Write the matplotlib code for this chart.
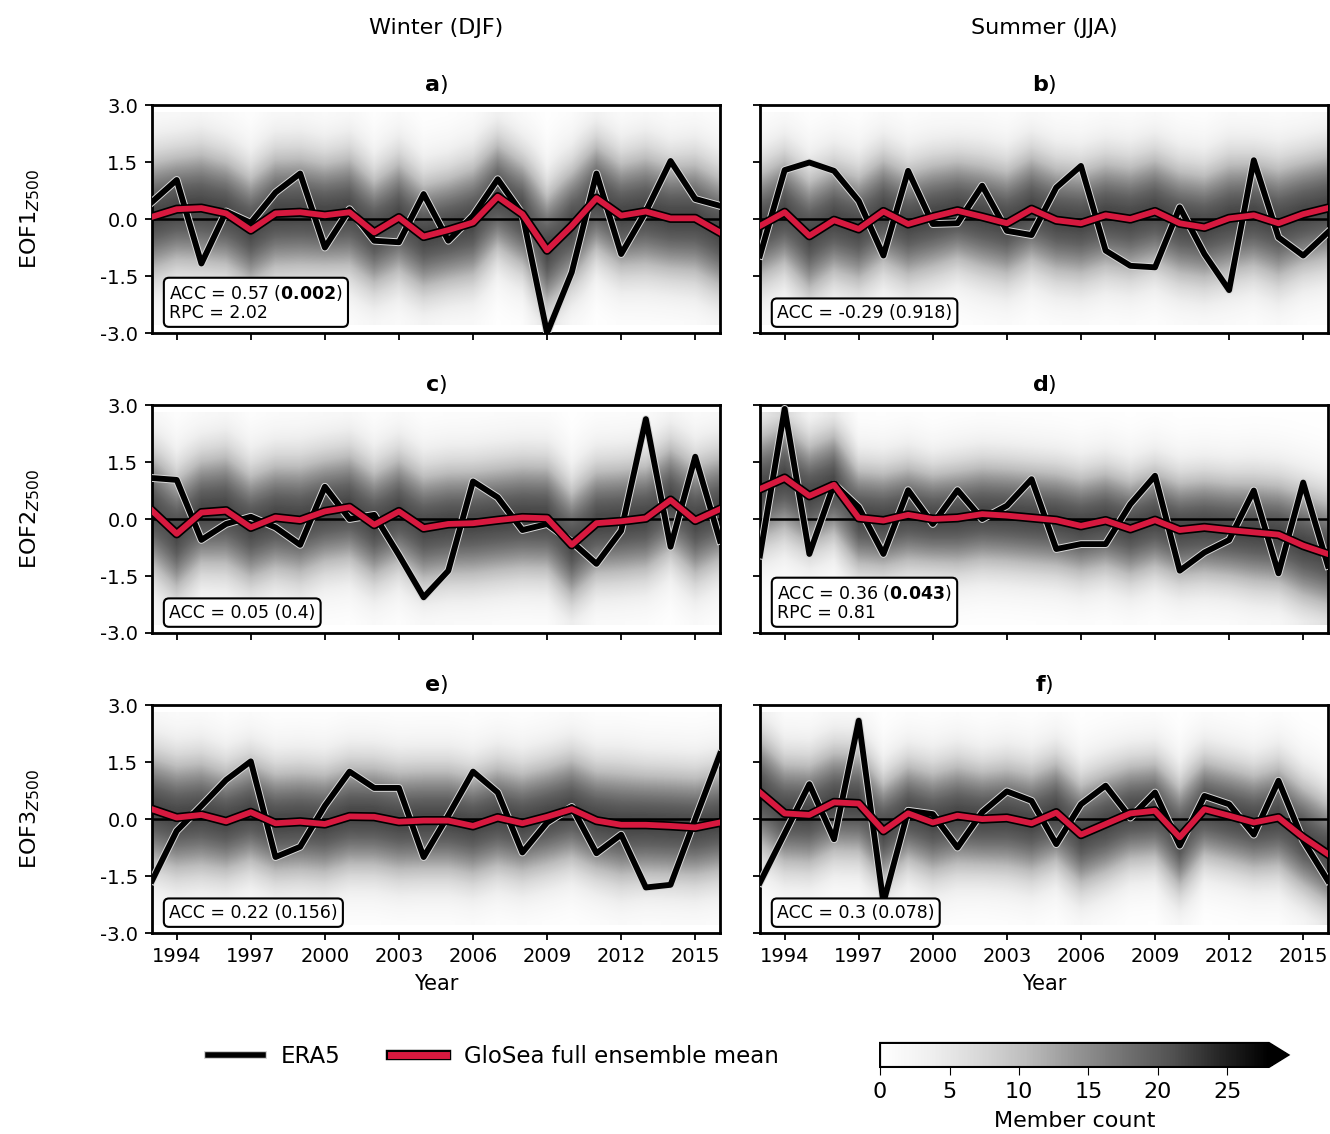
import numpy as np
import matplotlib
matplotlib.use("Agg")
import matplotlib.pyplot as plt
import matplotlib.patheffects as pe
from matplotlib.lines import Line2D

plt.rcParams['font.family'] = ['DejaVu Sans']
plt.rcParams['axes.unicode_minus'] = False

years = np.arange(1993, 2017)

# ERA5 observed index (black)
era5 = {
    "a": [0.45, 1.03, -1.17, 0.2, -0.1, 0.7, 1.2, -0.75, 0.26, -0.57, -0.61, 0.66,
          -0.57, 0.09, 1.05, 0.13, -3.0, -1.4, 1.2, -0.92, 0.2, 1.53, 0.53, 0.35],
    "b": [-0.96, 1.29, 1.49, 1.27, 0.48, -0.96, 1.27, -0.13, -0.11, 0.88, -0.31, -0.42,
          0.83, 1.4, -0.83, -1.23, -1.27, 0.31, -0.92, -1.87, 1.55, -0.48, -0.96, -0.35],
    "c": [1.08, 1.03, -0.55, -0.13, 0.06, -0.22, -0.68, 0.85, 0.0, 0.11, -0.95, -2.06,
          -1.36, 0.99, 0.57, -0.29, -0.13, -0.6, -1.18, -0.31, 2.63, -0.73, 1.64, -0.57],
    "d": [-0.96, 2.9, -0.92, 0.92, 0.31, -0.92, 0.76, -0.13, 0.76, 0.0, 0.35, 1.05,
          -0.79, -0.66, -0.66, 0.39, 1.14, -1.36, -0.88, -0.55, 0.75, -1.43, 0.96, -1.23],
    "e": [-1.62, -0.31, 0.35, 1.03, 1.52, -1.0, -0.73, 0.35, 1.25, 0.82, 0.82, -1.0,
          0.1, 1.25, 0.7, -0.88, -0.09, 0.32, -0.9, -0.41, -1.8, -1.73, 0.0, 1.71],
    "f": [-1.67, -0.38, 0.92, -0.53, 2.59, -2.2, 0.22, 0.13, -0.75, 0.18, 0.73, 0.48,
          -0.66, 0.39, 0.88, 0.04, 0.7, -0.7, 0.61, 0.39, -0.41, 1.01, -0.57, -1.62],
}

# GloSea full ensemble mean (red)
glosea = {
    "a": [0.06, 0.26, 0.29, 0.15, -0.29, 0.15, 0.18, 0.1, 0.18, -0.35, 0.04, -0.46,
          -0.29, -0.09, 0.59, 0.13, -0.82, -0.18, 0.55, 0.09, 0.2, 0.02, 0.02, -0.35],
    "b": [-0.18, 0.18, -0.44, -0.03, -0.26, 0.2, -0.13, 0.06, 0.22, 0.06, -0.11, 0.26,
          -0.03, -0.11, 0.1, 0.0, 0.2, -0.11, -0.22, 0.02, 0.1, -0.11, 0.13, 0.29],
    "c": [0.22, -0.39, 0.17, 0.22, -0.22, 0.04, -0.03, 0.2, 0.31, -0.15, 0.2, -0.24,
          -0.13, -0.11, -0.03, 0.04, 0.02, -0.68, -0.11, -0.06, 0.02, 0.5, -0.04, 0.26],
    "d": [0.79, 1.08, 0.61, 0.9, 0.03, -0.04, 0.11, 0.0, 0.03, 0.13, 0.09, 0.03,
          -0.03, -0.18, -0.04, -0.26, -0.03, -0.29, -0.22, -0.29, -0.35, -0.41, -0.7, -0.92],
    "e": [0.26, 0.04, 0.11, -0.06, 0.18, -0.11, -0.07, -0.13, 0.07, 0.06, -0.07, -0.04,
          -0.04, -0.18, 0.04, -0.11, 0.06, 0.26, -0.04, -0.15, -0.15, -0.18, -0.22, -0.09],
    "f": [0.7, 0.15, 0.11, 0.44, 0.41, -0.31, 0.15, -0.09, 0.09, 0.0, 0.03, -0.11,
          0.17, -0.41, -0.13, 0.15, 0.22, -0.48, 0.26, 0.09, -0.09, 0.04, -0.48, -0.92],
}

# ensemble spread per year (width of the grey member-count band)
spread = {
    "a": [1.15, 1.1, 1.15, 1.1, 1.1, 1.15, 1.15, 1.1, 1.15, 1.1, 1.15, 1.1,
          1.1, 1.15, 1.1, 1.1, 1.15, 1.15, 1.1, 1.1, 1.15, 1.1, 1.15, 1.15],
    "b": [1.1, 1.1, 1.15, 1.1, 1.1, 1.1, 1.1, 1.1, 1.05, 1.1, 1.1, 1.1,
          1.1, 1.1, 1.1, 1.1, 1.1, 1.1, 1.1, 1.15, 1.1, 1.15, 1.1, 1.1],
    "c": [1.15, 1.15, 1.1, 1.15, 1.1, 1.1, 1.15, 1.1, 1.1, 1.1, 1.1, 1.1,
          1.1, 1.1, 1.1, 1.1, 1.1, 1.1, 1.1, 1.1, 1.1, 1.1, 1.15, 1.1],
    "d": [1.1, 1.1, 1.05, 1.05, 1.0, 1.0, 1.0, 0.95, 1.0, 1.0, 1.0, 1.0,
          1.0, 1.0, 1.0, 1.0, 1.0, 1.0, 1.0, 1.0, 1.05, 1.05, 1.1, 1.1],
    "e": [1.1, 1.1, 1.1, 1.05, 1.05, 1.05, 1.05, 1.05, 1.05, 1.05, 1.05, 1.05,
          1.05, 1.05, 1.05, 1.05, 1.05, 1.05, 1.05, 1.1, 1.05, 1.05, 1.05, 1.05],
    "f": [1.1, 1.05, 1.05, 1.05, 1.05, 1.0, 1.0, 1.05, 1.05, 1.0, 1.05, 1.05,
          1.05, 1.05, 1.05, 1.0, 1.0, 1.05, 1.0, 1.0, 1.0, 1.05, 1.05, 1.05],
}
peak_count = 22

stats = {
    "a": "ACC = 0.57 ($\\mathbf{0.002}$)\nRPC = 2.02",
    "b": "ACC = -0.29 (0.918)",
    "c": "ACC = 0.05 (0.4)",
    "d": "ACC = 0.36 ($\\mathbf{0.043}$)\nRPC = 0.81",
    "e": "ACC = 0.22 (0.156)",
    "f": "ACC = 0.3 (0.078)",
}
row_labels = ["EOF1$_{Z500}$", "EOF2$_{Z500}$", "EOF3$_{Z500}$"]
col_titles = ["Winter (DJF)", "Summer (JJA)"]
panel_ids = [["a", "b"], ["c", "d"], ["e", "f"]]
xticks = np.arange(1994, 2016, 3)
yticks = [-3.0, -1.5, 0.0, 1.5, 3.0]

red = "#d7193f"
bins = np.arange(-2.8, 2.81, 0.2)
ycent = 0.5 * (bins[:-1] + bins[1:])

fig = plt.figure(figsize=(13.3, 11.34), dpi=100)
lefts = [0.1143, 0.5714]
bottoms = [0.7063, 0.4418, 0.1772]
w, h = 0.427, 0.201

im = None
for r in range(3):
    for c in range(2):
        k = panel_ids[r][c]
        ax = fig.add_axes([lefts[c], bottoms[r], w, h])
        mu = np.array(glosea[k])
        sd = np.array(spread[k])
        counts = peak_count * np.exp(-0.5 * ((ycent[:, None] - mu[None, :]) / sd[None, :]) ** 2)
        im = ax.imshow(counts, origin="lower", aspect="auto", cmap="Greys",
                       vmin=0, vmax=28, interpolation="bilinear",
                       extent=[years[0] - 0.5, years[-1] + 0.5, bins[0], bins[-1]], zorder=0)
        ax.axhline(0, color="black", lw=1.8, zorder=1)
        ax.plot(years, era5[k], color="black", lw=4.2, zorder=3,
                path_effects=[pe.Stroke(linewidth=5.6, foreground="#d8d8d8"), pe.Normal()])
        ax.plot(years, glosea[k], color=red, lw=4.2, zorder=4,
                path_effects=[pe.Stroke(linewidth=6.6, foreground="black"), pe.Normal()])
        ax.set_xlim(1993, 2016)
        ax.set_ylim(-3, 3)
        ax.set_xticks(xticks)
        ax.set_yticks(yticks)
        ax.tick_params(labelsize=14, width=1.3, length=5, pad=5)
        for s in ax.spines.values():
            s.set_linewidth(2)
        if c == 0:
            ax.set_yticklabels([f"{v:.1f}" for v in yticks])
            ax.set_ylabel(row_labels[r], fontsize=16, labelpad=42)
        else:
            ax.set_yticklabels([])
        if r == 2:
            ax.set_xlabel("Year", fontsize=15, labelpad=6)
        else:
            ax.set_xticklabels([])
        ax.set_title(f"$\\mathbf{{{k}}}$)", fontsize=16, pad=10)
        ax.text(0.03, 0.05, stats[k], transform=ax.transAxes, fontsize=12.5,
                va="bottom", ha="left", zorder=6, linespacing=1.05,
                bbox=dict(boxstyle="round,pad=0.3", fc="white", ec="black", lw=1.5))
        if r == 0:
            ax.text(0.5, 1.34, col_titles[c], transform=ax.transAxes, fontsize=16,
                    ha="center", va="center")

handles = [
    Line2D([0], [0], color="black", lw=4,
           path_effects=[pe.Stroke(linewidth=5.6, foreground="#cccccc"), pe.Normal()]),
    Line2D([0], [0], color=red, lw=5,
           path_effects=[pe.Stroke(linewidth=7.5, foreground="black"), pe.Normal()]),
]
fig.legend(handles, ["ERA5", "GloSea full ensemble mean"], loc="center",
           bbox_to_anchor=(0.371, 0.068), ncol=2, frameon=False, fontsize=16.5,
           handlelength=2.4, columnspacing=2.2)

cax = fig.add_axes([0.6617, 0.0591, 0.307, 0.0212])
cb = fig.colorbar(im, cax=cax, orientation="horizontal", extend="max",
                  ticks=[0, 5, 10, 15, 20, 25])
cb.ax.tick_params(labelsize=16, length=6, pad=5)
cb.set_label("Member count", fontsize=16, labelpad=6)
cb.outline.set_linewidth(1.5)

fig.savefig("out.png", dpi=100)
